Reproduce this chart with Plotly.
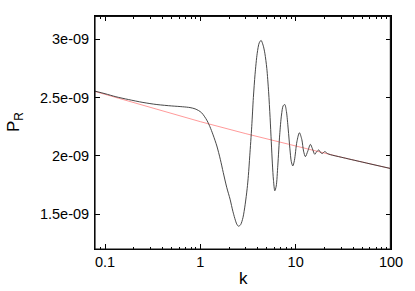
import plotly.graph_objects as go

# Black curve: primordial spectrum with oscillatory feature
k_feat = [0.0785, 0.1, 0.13, 0.176, 0.25, 0.35, 0.5, 0.65, 0.78, 0.88, 0.96, 1.03, 1.1,
          1.18, 1.26, 1.36, 1.49, 1.62, 1.74, 1.89, 2.05, 2.2, 2.41, 2.52, 2.65, 2.8,
          2.95, 3.1, 3.19, 3.3, 3.46, 3.6, 3.75, 3.95, 4.15, 4.34, 4.55, 4.75, 4.98,
          5.2, 5.39, 5.55, 5.7, 5.85, 6.04, 6.25, 6.5, 6.8, 7.1, 7.4, 7.69, 8.0, 8.35,
          8.7, 9.0, 9.33, 9.7, 10.3, 10.94, 11.6, 12.1, 12.65, 13.4, 14.27, 15.0,
          15.86, 16.6, 17.47, 18.2, 18.92, 20.2, 21.5, 23.1, 30, 50, 100]
p_feat = [2.555, 2.533, 2.507, 2.483, 2.458, 2.440, 2.428, 2.421, 2.414, 2.403, 2.388,
          2.37, 2.34, 2.30, 2.25, 2.18, 2.084, 1.97, 1.856, 1.73, 1.628, 1.52, 1.414,
          1.395, 1.41, 1.47, 1.58, 1.72, 1.83, 2.0, 2.25, 2.5, 2.70, 2.88, 2.97, 2.99,
          2.95, 2.88, 2.75, 2.55, 2.33, 2.12, 1.93, 1.79, 1.70, 1.74, 1.92, 2.18, 2.35,
          2.43, 2.44, 2.38, 2.23, 2.06, 1.95, 1.913, 1.96, 2.12, 2.198, 2.14, 2.04,
          1.993, 2.04, 2.098, 2.06, 2.013, 2.035, 2.05, 2.03, 2.019, 2.036, 2.02, 2.01,
          1.988, 1.946, 1.890]

# Red line: featureless power law
k_pl = [0.0785, 0.3, 1, 3, 10, 30, 100]
p_pl = [2.552, 2.412, 2.293, 2.190, 2.082, 1.988, 1.890]

# Axis ticks
x_range_log = [-1.105, 2.0]
y_range = [1.2e-9, 3.2e-9]
x_tickvals = [0.1, 1, 10, 100]
x_ticktext = ["0.1", "1", "10", "100"]
y_tickvals = [1.5e-9, 2e-9, 2.5e-9, 3e-9]
y_ticktext = ["1.5e-09", "2e-09", "2.5e-09", "3e-09"]

fig = go.Figure()
fig.add_trace(go.Scatter(x=k_pl, y=[v * 1e-9 for v in p_pl], mode="lines",
                         line=dict(color="#ff6e6e", width=0.7), showlegend=False))
fig.add_trace(go.Scatter(x=k_feat, y=[v * 1e-9 for v in p_feat], mode="lines",
                         line=dict(color="#333333", width=0.9, shape="spline", smoothing=0.8),
                         showlegend=False))
# empty trace so the mirrored (top / right) tick axes are drawn
fig.add_trace(go.Scatter(x=[None], y=[None], xaxis="x2", yaxis="y2", showlegend=False,
                         hoverinfo="skip"))

font_family = "Liberation Sans, Arial, sans-serif"
minor_ticks = dict(ticks="inside", ticklen=2.5, tickcolor="black", dtick="D1", showgrid=False)
frame = dict(color="#111111", width=1.2)
fig.update_layout(
    width=415, height=291,
    margin=dict(l=95, r=24, t=16, b=42, autoexpand=False),
    paper_bgcolor="white", plot_bgcolor="white",
    font=dict(family=font_family, color="black", size=14.5),
    xaxis=dict(type="log", range=x_range_log, automargin=False,
               tickvals=x_tickvals, ticktext=x_ticktext,
               ticks="inside", ticklen=5, tickcolor="black", minor=minor_ticks,
               showline=True, linecolor="black", linewidth=1, mirror="ticks",
               showgrid=False, zeroline=False),
    yaxis=dict(range=y_range, automargin=False,
               tickvals=y_tickvals, ticktext=y_ticktext,
               ticks="inside", ticklen=5, tickcolor="black",
               showline=True, linecolor="black", linewidth=1, mirror="ticks",
               showgrid=False, zeroline=False, ticklabelstandoff=2),
    xaxis2=dict(type="log", range=x_range_log, overlaying="x", side="top", anchor="y2",
                automargin=False, tickvals=x_tickvals, showticklabels=False,
                ticks="inside", ticklen=5, tickcolor="black", minor=minor_ticks,
                showline=True, linecolor="black", linewidth=1,
                showgrid=False, zeroline=False),
    yaxis2=dict(range=y_range, overlaying="y", side="right", anchor="x2",
                automargin=False, tickvals=y_tickvals, showticklabels=False,
                ticks="inside", ticklen=5, tickcolor="black",
                showline=True, linecolor="black", linewidth=1,
                showgrid=False, zeroline=False),
    shapes=[
        dict(type="line", xref="paper", yref="paper", x0=0, x1=1, y0=0.998, y1=0.998,
             line=frame, layer="above"),
        dict(type="line", xref="paper", yref="paper", x0=0.998, x1=0.998, y0=0, y1=1,
             line=frame, layer="above"),
        dict(type="line", xref="paper", yref="paper", x0=0, x1=0, y0=0, y1=1,
             line=frame, layer="above"),
        dict(type="line", xref="paper", yref="paper", x0=0, x1=1, y0=0, y1=0,
             line=frame, layer="above"),
    ],
    annotations=[dict(text="P<sub>R</sub>", textangle=-90, xref="paper", yref="paper",
                      x=-0.27, y=0.545, xanchor="center", yanchor="middle",
                      showarrow=False, font=dict(size=17)),
                 dict(text="k", xref="paper", yref="paper", x=0.5, y=-0.176,
                      xanchor="center", yanchor="bottom", showarrow=False,
                      font=dict(size=17))],
)

# remove the default 8px page margin so the figure sits at the window's top-left corner
fig.write_html("out.html", config={"displayModeBar": False},
               post_script="document.body.style.margin='0';")
